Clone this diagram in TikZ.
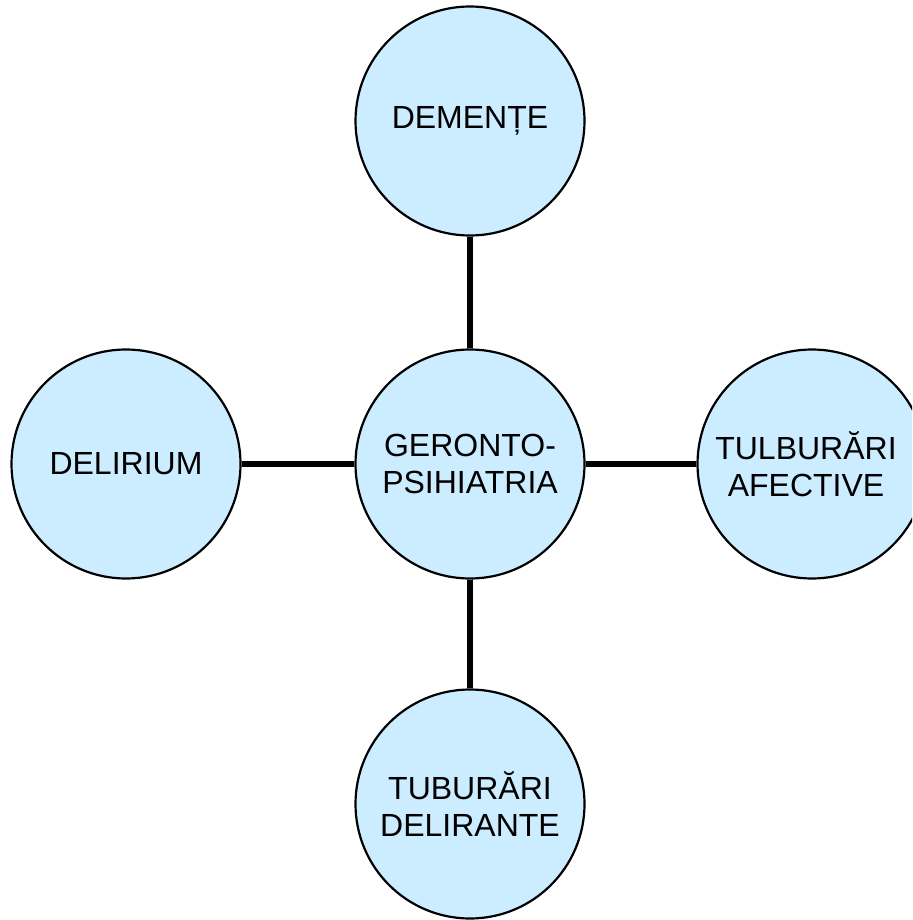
\documentclass[tikz,border=0pt]{standalone}
\usepackage{fontspec}
\setmainfont{Liberation Sans}
\definecolor{bubble}{HTML}{CCECFF}
\begin{document}
\begin{tikzpicture}[x=1pt,y=-1pt,
  bub/.style={circle,draw=black,line width=2.2pt,fill=bubble,minimum size=229pt,inner sep=0pt,align=center,font=\fontsize{32}{37}\selectfont},
  link/.style={line width=5.5pt}]
\useasboundingbox (0,0) rectangle (912,920);
\begin{scope}
\clip (0,0) rectangle (912,920);
\node[bub] (c) at (470,464) {GERONTO-\\PSIHIATRIA};
\node[bub] (t) at (470,121) {DEMENȚE};
\node[bub] (l) at (126,464) {DELIRIUM};
\node[bub] (r) at (812,464) {};
\node[bub] (b) at (470,804) {TUBURĂRI\\DELIRANTE};
\node[align=center,font=\fontsize{32}{37}\selectfont] (rt) at (806,464) {TULBURĂRI\\AFECTIVE};
\end{scope}
\draw[link] (t) -- (c);
\draw[link] (l) -- (c);
\draw[link] (c) -- (r);
\draw[link] (c) -- (b);
\end{tikzpicture}
\end{document}
